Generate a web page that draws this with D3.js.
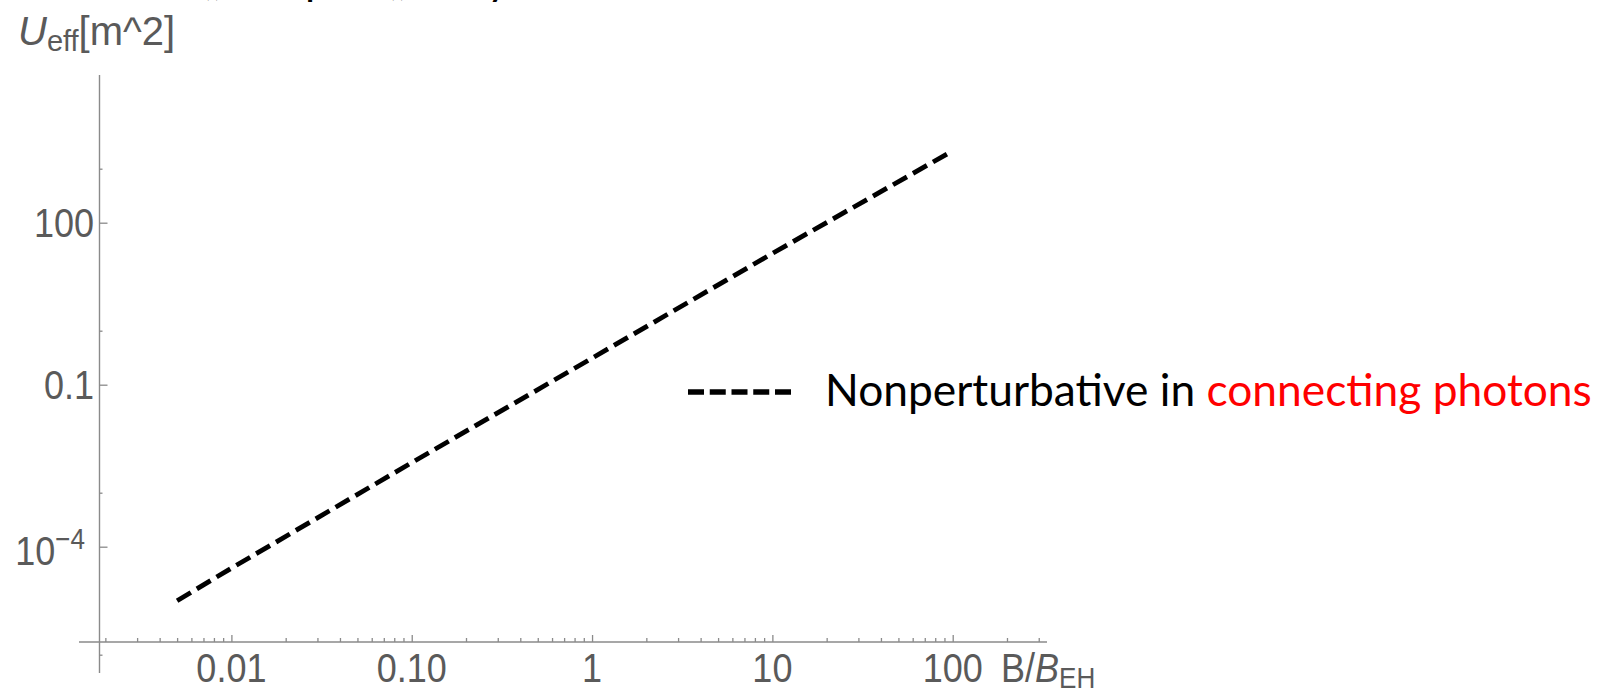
<!DOCTYPE html>
<html><head><meta charset="utf-8">
<script src="https://cdn.jsdelivr.net/npm/d3@7"></script>
<style>html,body{margin:0;padding:0;background:#fff;overflow:hidden}</style>
</head><body>
<script>
// ---- data ----
const B = [0.005, 0.01, 0.1, 1, 10, 100];
const U = [1.0e-5, 4.0e-5, 3.6e-3, 0.31, 27, 2150];
const xMajor = [0.01, 0.1, 1, 10, 100];
const xMajorLabels = ["0.01", "0.10", "1", "10", "100"];
const xMinor = [0.002,0.003,0.004,0.005,0.006,0.007,0.008,0.009,
  0.02,0.03,0.04,0.05,0.06,0.07,0.08,0.09,
  0.2,0.3,0.4,0.5,0.6,0.7,0.8,0.9,
  2,3,4,5,6,7,8,9,
  20,30,40,50,60,70,80,90,200,300];
const yMajor = [100, 0.1, 1e-4];
const yMajorLabels = ["100", "0.1", "10^-4"];
const yMinor = [1000, 1, 1e-3, 1e-6];
const legendText = ["Nonperturbative in ", "connecting photons"];

const W = 1604, H = 699;
const svg = d3.select("body").append("svg").attr("width", W).attr("height", H)
  .style("background", "#fff");

const x = d3.scaleLog().domain([0.01, 100]).range([231.4, 952.7]);
const y = d3.scaleLog().domain([1e-4, 100]).range([546.7, 222.7]);

const axisCol = "#8a8a8a", labCol = "#5a5a5a";
const xAxisY = 642, yAxisX = 99.5;
const tickFont = "'Liberation Sans', Arial, sans-serif";
const sx = 0.9; // tick-label glyphs are a little narrower than Arial

// cropped title fragments at the very top (only their lowest parts are visible)
const frag = [{t:"(", x:200},{t:")", x:213},{t:"p", x:305},{t:"(", x:385},{t:")", x:398},{t:"y", x:487}];
svg.append("g").selectAll("text").data(frag).join("text")
  .attr("x", d => d.x).attr("y", -6)
  .style("font-family", "Lato, sans-serif").style("font-size", "44px").attr("fill", "#000")
  .text(d => d.t);

// axis lines
svg.append("line").attr("x1", 79).attr("x2", 1047).attr("y1", xAxisY).attr("y2", xAxisY)
  .attr("stroke", axisCol).attr("stroke-width", 1.4);
svg.append("line").attr("x1", yAxisX).attr("x2", yAxisX).attr("y1", 75).attr("y2", 673)
  .attr("stroke", axisCol).attr("stroke-width", 1.4);

function styleAxis(g){ g.select(".domain").remove(); g.selectAll("line").attr("stroke", axisCol).attr("stroke-width", 1.3); }

svg.append("g").attr("transform", `translate(0,${xAxisY})`)
  .call(d3.axisBottom(x).tickValues(xMajor).tickSize(-7).tickFormat("")).call(styleAxis);
svg.append("g").attr("transform", `translate(0,${xAxisY})`)
  .call(d3.axisBottom(x).tickValues(xMinor).tickSize(-4).tickFormat("")).call(styleAxis);
svg.append("g").attr("transform", `translate(${yAxisX},0)`)
  .call(d3.axisLeft(y).tickValues(yMajor).tickSize(-8).tickFormat("")).call(styleAxis);
svg.append("g").attr("transform", `translate(${yAxisX},0)`)
  .call(d3.axisLeft(y).tickValues(yMinor).tickSize(-3).tickFormat("")).call(styleAxis);

// x tick labels
svg.append("g").selectAll("text").data(xMajor).join("text")
  .attr("transform", d => `translate(${x(d)},682) scale(${sx},1)`).attr("text-anchor", "middle")
  .style("font-family", tickFont).style("font-size", "40px").attr("fill", labCol)
  .text((d, i) => xMajorLabels[i]);

// y tick labels
const yl = svg.append("g").selectAll("text").data(yMajor).join("text")
  .attr("transform", d => `translate(94,${y(d) + 14}) scale(${sx},1)`).attr("text-anchor", "end")
  .style("font-family", tickFont).style("font-size", "40px").attr("fill", labCol);
yl.each(function(d, i){
  const s = yMajorLabels[i], t = d3.select(this);
  if (s.includes("^")) {
    const [b, e] = s.split("^");
    t.attr("transform", `translate(85,${y(d) + 18}) scale(${sx},1)`);
    t.append("tspan").text(b);
    t.append("tspan").attr("dy", -16).style("font-size", "29px").text(e.replace("-", "\u2212"));
  } else t.text(s);
});

// axis titles
const yt = svg.append("text").attr("x", 18).attr("y", 45)
  .style("font-family", tickFont).style("font-size", "40px").attr("fill", labCol);
yt.append("tspan").style("font-style", "italic").text("U");
yt.append("tspan").attr("dy", 6).style("font-size", "29px").text("eff");
yt.append("tspan").attr("dy", -6).text("[m^2]");

const xt = svg.append("text").attr("transform", `translate(1001,682) scale(${sx},1)`)
  .style("font-family", tickFont).style("font-size", "40px").attr("fill", labCol);
xt.append("tspan").text("B/");
xt.append("tspan").style("font-style", "italic").text("B");
xt.append("tspan").attr("dy", 6).style("font-size", "29px").text("EH");

// data line
const pts = B.map((b, i) => ({B: b, U: U[i]}));
svg.append("path").datum(pts)
  .attr("d", d3.line().x(d => x(d.B)).y(d => y(d.U)))
  .attr("fill", "none").attr("stroke", "#000").attr("stroke-width", 4.8)
  .attr("stroke-dasharray", "16,7");

// legend
svg.append("line").attr("x1", 688).attr("x2", 791).attr("y1", 392).attr("y2", 392)
  .attr("stroke", "#000").attr("stroke-width", 5.5).attr("stroke-dasharray", "16,5.75");
const lt = svg.append("text").attr("x", 825).attr("y", 406)
  .style("font-family", "Lato, 'Open Sans', sans-serif").style("font-size", "42px");
lt.append("tspan").attr("fill", "#000").text(legendText[0]);
lt.append("tspan").attr("fill", "#ff0000").text(legendText[1]);
const len = lt.node().getComputedTextLength();
lt.style("font-size", (42 * 767 / len).toFixed(2) + "px");
</script>
</body></html>
